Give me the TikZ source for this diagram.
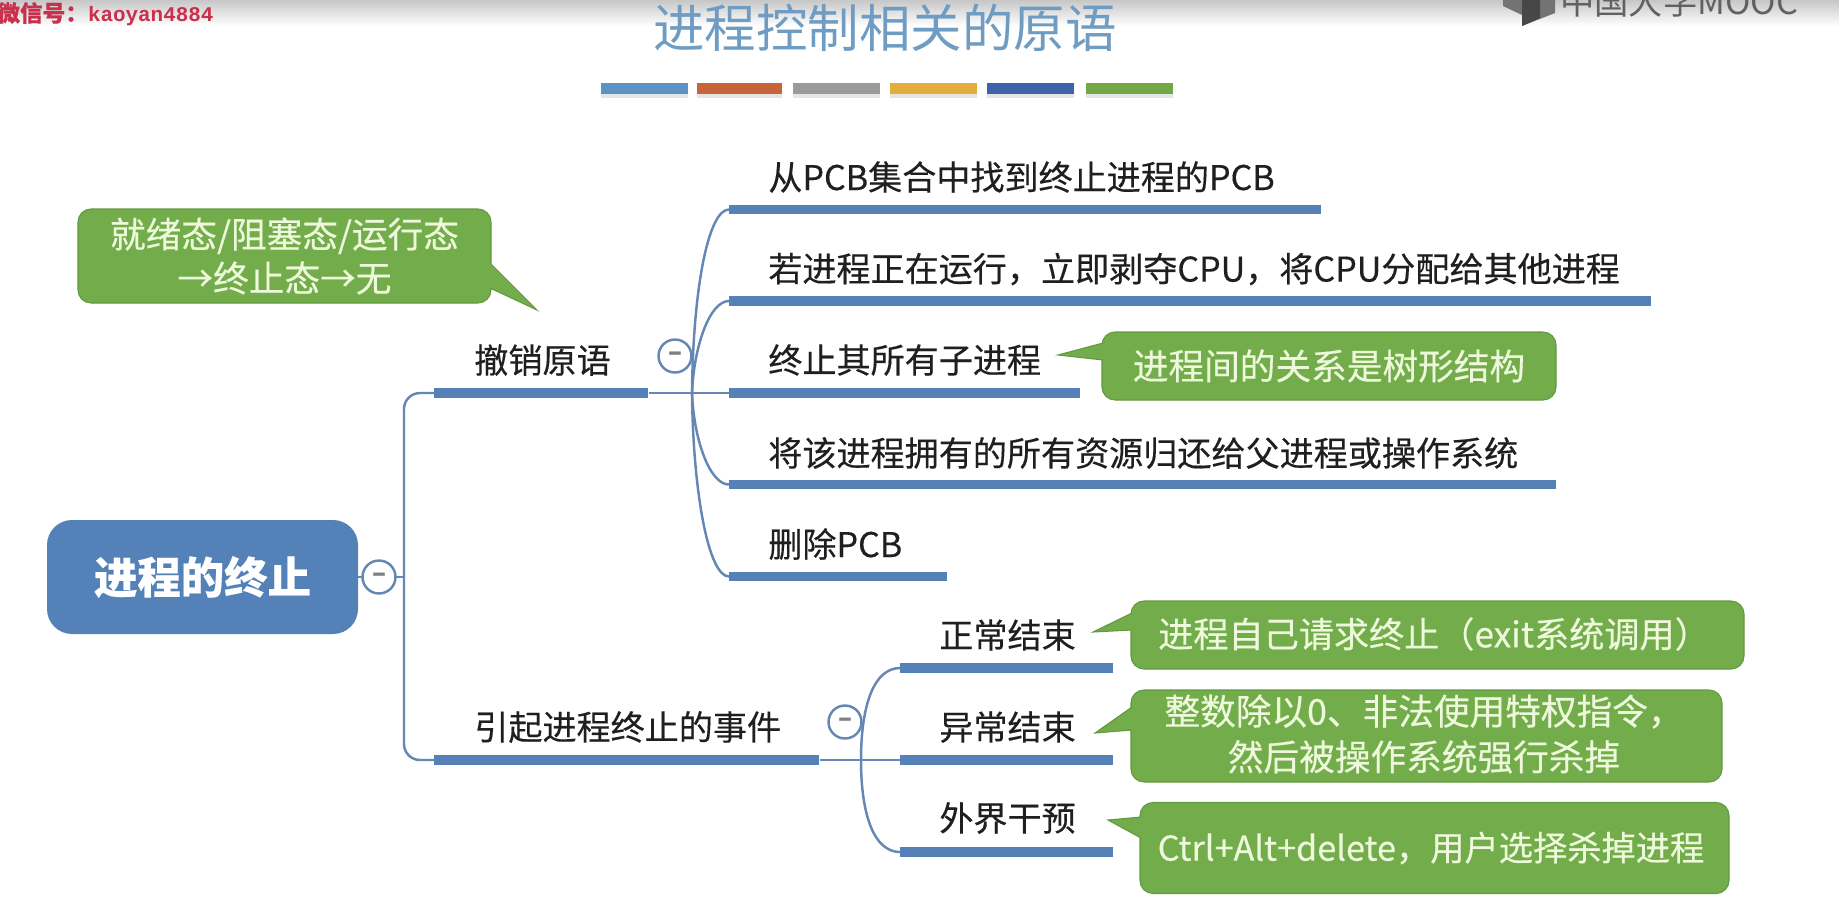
\documentclass[tikz,border=0pt]{standalone}
\usepackage{fontspec}
\setmainfont{Noto Sans CJK SC}[FakeBold=0.35]
\newfontfamily\plainfont{Noto Sans CJK SC}
\newfontfamily\markfont{Liberation Mono}[Scale=1]
\definecolor{barblue}{HTML}{5481B8}
\definecolor{twigblue}{HTML}{6587B4}
\definecolor{headblue}{HTML}{6E9CC2}
\definecolor{notegreen}{HTML}{73AD4B}
\definecolor{noteedge}{HTML}{62983F}
\definecolor{notetext}{HTML}{EEF9DC}
\definecolor{markred}{HTML}{C9304C}
\definecolor{ruleA}{HTML}{5B93C4}
\definecolor{ruleB}{HTML}{C8643A}
\definecolor{ruleC}{HTML}{9A9A9A}
\definecolor{ruleD}{HTML}{E3AE3C}
\definecolor{ruleE}{HTML}{3F63A8}
\definecolor{ruleF}{HTML}{72A846}
\tikzset{
    sized/.style 2 args={minimum width=#1*0.02cm, minimum height=#2*0.02cm},
    barline/.style={rectangle, fill=barblue, inner sep=0pt, anchor=west, minimum height=0.19cm},
    twig/.style={draw=twigblue, line width=1.4pt},
    leaf/.style={anchor=west, inner sep=0pt, text=black!88, font=\fontsize{19.4}{23}\selectfont},
    note/.style={rectangle, rounded corners=0.26cm, fill=notegreen, draw=noteedge, line width=0.6pt,
        inner sep=0pt, align=center, text=notetext, font=\fontsize{20.3}{25}\selectfont},
    notetip/.style={fill=notegreen, draw=noteedge, line width=0.6pt},
    cutoff/.style={circle, draw=twigblue, fill=white, line width=1.4pt, inner sep=0pt,
        minimum size=0.66cm, text=black!50, font=\bfseries\fontsize{14}{14}\selectfont}
}
\begin{document}
\begin{tikzpicture}[x=0.02cm,y=-0.02cm]
    \useasboundingbox (0,0) rectangle (1839,897);
    \shade[top color=black!22, bottom color=white, draw=none] (0,0) rectangle (1839,26); % top edge
    % header
    \node[text=headblue, inner sep=0pt, font=\plainfont\fontsize{29.3}{32}\selectfont] (head) at (885,28) {进程控制相关的原语};
    \foreach \a/\b in {601/688,697/782,793/880,890/977,987/1074,1086/1173}
        \fill[black!10] (\a,90) rectangle (\b,98); % rule shadows
    \fill[ruleA] (601,83) rectangle (688,94);
    \fill[ruleB] (697,83) rectangle (782,94);
    \fill[ruleC] (793,83) rectangle (880,94);
    \fill[ruleD] (890,83) rectangle (977,94);
    \fill[ruleE] (987,83) rectangle (1074,94);
    \fill[ruleF] (1086,83) rectangle (1173,94);
    % corner marks
    \node[anchor=west, inner sep=0pt, text=markred, font=\bfseries\fontsize{12.9}{14}\selectfont] (mark) at (-3,14)
        {微信号：{\markfont\bfseries\fontsize{11.9}{14}\selectfont kaoyan4884}};
    \fill[black!55] (1503,6) -- (1522,15) -- (1522,26) -- (1555,13) -- (1555,0) -- (1503,0) -- cycle;
    \fill[black!72] (1522,15) -- (1522,26) -- (1540,18) -- (1540,0) -- (1522,0) -- cycle;
    \node[anchor=west, inner sep=0pt, text=black!62, font=\plainfont\fontsize{19.5}{20}\selectfont] (mooc) at (1560,1) {中国大学MOOC};
    % bars
    \node[barline, minimum width=11.84cm] (find) at (729,209.5) {};
    \node[barline, minimum width=18.44cm] (strip) at (729,301) {};
    \node[barline, minimum width=7.02cm] (kill) at (729,393) {};
    \node[barline, minimum width=16.54cm] (give) at (729,484.5) {};
    \node[barline, minimum width=4.36cm] (drop) at (729,576.5) {};
    \node[barline, minimum width=4.28cm] (cancel) at (434,393) {};
    \node[barline, minimum width=7.70cm] (cause) at (434,760) {};
    \node[barline, minimum width=4.26cm] (normal) at (900,668) {};
    \node[barline, minimum width=4.26cm] (fault) at (900,760) {};
    \node[barline, minimum width=4.26cm] (outer) at (900,852) {};
    % root box
    \node[rectangle, rounded corners=0.5cm, fill=barblue, inner sep=0pt, sized={311}{114}, text=white,
        font=\bfseries\fontsize{24.7}{28}\selectfont] (root) at (202.5,577) {进程的终止};
    % trunk
    \coordinate (trunkT) at (404,393);
    \coordinate (trunkM) at (404,577);
    \coordinate (trunkB) at (404,760);
    \draw[twig] (root.east) -- (trunkM);
    \draw[twig, rounded corners=0.32cm] (cancel.west) -- (trunkT) -- (trunkB) -- (cause.west);
    % first fan
    \coordinate (fanA) at (692,393);
    \draw[twig] (cancel.east) -- (kill.west);
    \draw[twig] (fanA) .. controls (693,290) and (708,209.5) .. (find.west);
    \draw[twig] (fanA) .. controls (694,345) and (710,301) .. (strip.west);
    \draw[twig] (fanA) .. controls (694,441) and (710,484.5) .. (give.west);
    \draw[twig] (fanA) .. controls (693,490) and (708,576.5) .. (drop.west);
    % second fan
    \coordinate (fanB) at (861,760);
    \draw[twig] (cause.east) -- (fault.west);
    \draw[twig] (fanB) .. controls (861,705) and (874,668) .. (normal.west);
    \draw[twig] (fanB) .. controls (861,815) and (874,852) .. (outer.west);
    % collapse marks
    \node[cutoff] (rootcut) at (379,577) {–};
    \node[cutoff] (cancelcut) at (675,356) {–};
    \node[cutoff] (causecut) at (845,722) {–};
    % labels
    \node[leaf] (cancellabel) at (474,360) {撤销原语};
    \node[leaf] (causelabel) at (474,727) {引起进程终止的事件};
    \node[leaf] (findlabel) at (768,177) {从PCB集合中找到终止进程的PCB};
    \node[leaf] (striplabel) at (768,269) {若进程正在运行，立即剥夺CPU，将CPU分配给其他进程};
    \node[leaf] (killlabel) at (768,360) {终止其所有子进程};
    \node[leaf] (givelabel) at (768,453) {将该进程拥有的所有资源归还给父进程或操作系统};
    \node[leaf] (droplabel) at (768,544) {删除PCB};
    \node[leaf] (normallabel) at (939,635) {正常结束};
    \node[leaf] (faultlabel) at (939,727) {异常结束};
    \node[leaf] (outerlabel) at (939,818) {外界干预};
    % notes
    \node[note, sized={413}{94}] (statenote) at (284.5,256) {就绪态/阻塞态/运行态\\→终止态→无};
    \draw[notetip] (490,263) -- (537,310) -- (490,288);
    \node[note, sized={454}{68}] (treenote) at (1329,366) {进程间的关系是树形结构};
    \draw[notetip] (1103,343) -- (1058,355) -- (1103,360);
    \node[note, sized={613}{68}] (exitnote) at (1437.5,635) {};
    \node[text=notetext, inner sep=0pt, font=\fontsize{20}{25}\selectfont] (exittext) at (1434,634) {进程自己请求终止（exit系统调用）};
    \draw[notetip] (1132,613) -- (1093,632) -- (1132,630);
    \node[note, sized={591}{92}] (faultnote) at (1426.5,736) {};
    \node[text=notetext, inner sep=0pt, align=center, font=\fontsize{20.3}{26}\selectfont] (faulttext) at (1424,734) {整数除以0、非法使用特权指令，\\然后被操作系统强行杀掉};
    \draw[notetip] (1132,707) -- (1095,733) -- (1132,730);
    \node[note, sized={589}{91}] (usernote) at (1434.5,848) {};
    \node[text=notetext, inner sep=0pt, font=\fontsize{19.5}{25}\selectfont] (usertext) at (1431,848) {Ctrl+Alt+delete，用户选择杀掉进程};
    \draw[notetip] (1141,817) -- (1108,820) -- (1141,838);
\end{tikzpicture}
\end{document}
